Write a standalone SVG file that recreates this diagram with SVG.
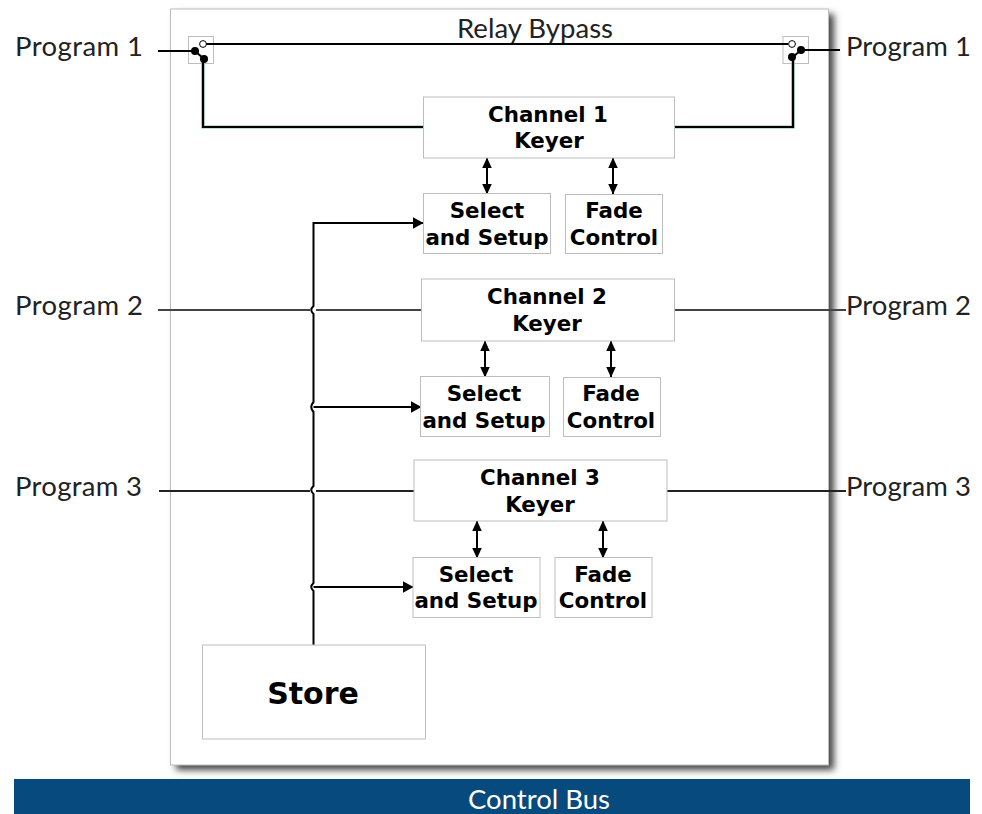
<svg xmlns="http://www.w3.org/2000/svg" width="982" height="814" viewBox="0 0 982 814">
<style>
.box{fill:#fff;stroke:#bdbdbd;stroke-width:1}
.lbl{font-family:"Lato","Open Sans",sans-serif;font-size:27.500px;fill:#222}
.b{font-family:"DejaVu Sans",sans-serif;font-weight:bold;font-size:21.400px;fill:#000;text-anchor:middle}
.w{fill:none;stroke:#000;stroke-width:2}
.g{fill:none;stroke:#000;stroke-width:2.2}
.gr{fill:none;stroke:#a6d5c4;stroke-width:3.600}
.d{fill:#000}
.o{fill:#fff;stroke:#000;stroke-width:1}
</style>
<defs>
<filter id="sh" x="-5%" y="-5%" width="110%" height="110%"><feGaussianBlur stdDeviation="3.500"/></filter>
<marker id="ar" viewBox="0 0 10 10" refX="9.500" refY="5" markerWidth="11" markerHeight="11" markerUnits="userSpaceOnUse" orient="auto-start-reverse"><path d="M0 0.500L10 5L0 9.500Z" fill="#000"/></marker>
<marker id="arb" viewBox="0 0 11 12" refX="10.500" refY="6" markerWidth="11" markerHeight="12" markerUnits="userSpaceOnUse" orient="auto"><path d="M0 0L11 6L0 12Z" fill="#000"/></marker>
</defs>
<rect width="982" height="814" fill="#fff"/>
<g id="panel">
<rect x="176" y="14" width="658" height="756" fill="#444" filter="url(#sh)"/>
<rect x="170.500" y="9" width="658" height="756" fill="#fff" stroke="#bdbdbd" stroke-width="1"/>
</g>
<g id="bus"><rect x="14" y="779" width="956" height="35" fill="#064a7e"/><text x="539" y="809" font-family="Lato,Open Sans,sans-serif" font-size="27.500" fill="#fff" text-anchor="middle">Control Bus</text></g>
<g id="relay1"><rect x="188.500" y="36.500" width="25" height="27" class="box"/></g>
<g id="relay2"><rect x="783" y="36.500" width="25.500" height="27" class="box"/></g>
<g id="connectors">
<path class="gr" d="M203 60V127H423M793 58V127H675"/>
<path class="g" d="M203 60V127H423M793 58V127H675"/>
<path class="w" d="M158 51H195M206 44H788M801 50H840"/>
<path class="w" d="M195 51L204 59M801 50L793 57"/>
<path class="w" style="stroke:#444" d="M158 310H310M316 310H421M675 310H846"/>
<path class="w" style="stroke:#222" d="M159 491H310M316 491H414M667 491H846"/>
<path class="w" d="M313.500 645V591Q309 587 313.500 583V494Q309 490 313.500 486V412Q309 407 313.500 402V314Q309 310 313.500 306V223H423" marker-end="url(#arb)"/>
<path class="w" d="M313.500 407H421" marker-end="url(#arb)"/>
<path class="w" d="M313.500 587H413" marker-end="url(#arb)"/>
<path class="w" d="M487 158V194" marker-start="url(#ar)" marker-end="url(#ar)"/>
<path class="w" d="M613 158V194" marker-start="url(#ar)" marker-end="url(#ar)"/>
<path class="w" d="M485 341V377" marker-start="url(#ar)" marker-end="url(#ar)"/>
<path class="w" d="M611 341V377" marker-start="url(#ar)" marker-end="url(#ar)"/>
<path class="w" d="M477 521V558" marker-start="url(#ar)" marker-end="url(#ar)"/>
<path class="w" d="M603 521V558" marker-start="url(#ar)" marker-end="url(#ar)"/>
<circle class="d" cx="195" cy="51" r="4"/><circle class="d" cx="204" cy="59" r="4"/><circle class="o" cx="203" cy="44" r="3.400"/>
<circle class="d" cx="801" cy="50" r="4"/><circle class="d" cx="792" cy="57" r="4"/><circle class="o" cx="792" cy="44" r="3.400"/>
</g>
<g id="labels">
<text class="lbl" x="15" y="56" textLength="128">Program 1</text><text class="lbl" x="846" y="56" textLength="125">Program 1</text>
<text class="lbl" x="15" y="315" textLength="128">Program 2</text><text class="lbl" x="846" y="315" textLength="125">Program 2</text>
<text class="lbl" x="15" y="496" textLength="127">Program 3</text><text class="lbl" x="846" y="496" textLength="125">Program 3</text>
<text class="lbl" x="535" y="38" text-anchor="middle" textLength="156">Relay Bypass</text>
</g>
<g id="ch1"><rect class="box" x="423.500" y="97" width="251" height="61"/><text class="b" x="548" y="122">Channel 1</text><text class="b" x="549" y="148">Keyer</text></g>
<g id="sel1"><rect class="box" x="423.500" y="193.500" width="127" height="60"/><text class="b" x="487" y="218">Select</text><text class="b" x="487" y="245">and Setup</text></g>
<g id="fade1"><rect class="box" x="565.500" y="194.500" width="97" height="59"/><text class="b" x="614" y="218">Fade</text><text class="b" x="614" y="245">Control</text></g>
<g id="ch2"><rect class="box" x="421.500" y="279" width="253" height="62"/><text class="b" x="547" y="304">Channel 2</text><text class="b" x="547" y="331">Keyer</text></g>
<g id="sel2"><rect class="box" x="420.500" y="376.500" width="129" height="60"/><text class="b" x="484" y="401">Select</text><text class="b" x="484" y="428">and Setup</text></g>
<g id="fade2"><rect class="box" x="563.500" y="377.500" width="97" height="59"/><text class="b" x="611" y="401">Fade</text><text class="b" x="611" y="428">Control</text></g>
<g id="ch3"><rect class="box" x="414" y="460" width="253" height="61"/><text class="b" x="540" y="485">Channel 3</text><text class="b" x="540" y="512">Keyer</text></g>
<g id="sel3"><rect class="box" x="413" y="557.500" width="127" height="60"/><text class="b" x="476" y="582">Select</text><text class="b" x="476" y="608">and Setup</text></g>
<g id="fade3"><rect class="box" x="555" y="557.500" width="97" height="60"/><text class="b" x="603" y="582">Fade</text><text class="b" x="603" y="608">Control</text></g>
<g id="store"><rect class="box" x="202.500" y="645" width="223" height="94"/><text class="b" x="313" y="704" style="font-size:30px">Store</text></g>
</svg>
